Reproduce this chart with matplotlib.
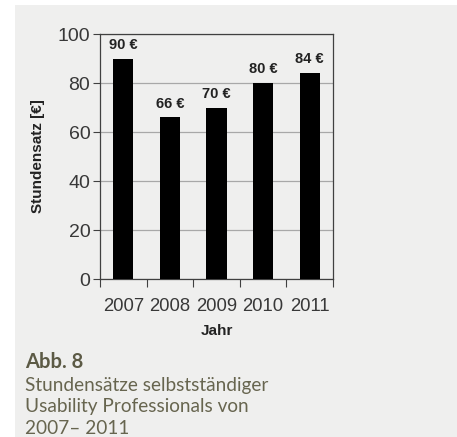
import matplotlib
matplotlib.use("Agg")
import matplotlib.pyplot as plt
import matplotlib.patches as mpatches

years = ["2007", "2008", "2009", "2010", "2011"]
rates = [90, 66, 70, 80, 84]
value_labels = ["90 €", "66 €", "70 €", "80 €", "84 €"]
y_ticks = [0, 20, 40, 60, 80, 100]

PANEL = "#efefee"
TEXT = "#383838"
CAPTION = "#5c5a45"

plt.rcParams["font.family"] = ["Liberation Sans", "DejaVu Sans"]

W, H = 457, 437
fig = plt.figure(figsize=(W / 100, H / 100), dpi=100)
fig.patch.set_facecolor("white")
fig.add_artist(mpatches.Rectangle((15 / W, 0), 1 - 15 / W, 1 - 5 / H,
                                  transform=fig.transFigure,
                                  facecolor=PANEL, edgecolor="none", zorder=-5))

ax = fig.add_axes([100 / W, 1 - 279 / H, 233 / W, 245 / H])
ax.set_facecolor(PANEL)
x = list(range(len(years)))
ax.bar(x, rates, width=0.43, color="black", zorder=3)
for xi, v, lab in zip(x, rates, value_labels):
    ax.annotate(lab, (xi, v), xytext=(0, 7), textcoords="offset points",
                ha="center", va="baseline", fontsize=10.5, fontweight="bold", color="#222222")

ax.set_xlim(-0.5, len(years) - 0.5)
ax.set_ylim(0, 100)
ax.set_yticks(y_ticks)
ax.set_yticklabels([str(t) for t in y_ticks])
ax.set_xticks([i + 0.5 for i in range(-1, len(years))], minor=False)
ax.set_xticklabels([])
ax.set_xticks(x, minor=True)
ax.set_xticklabels(years, minor=True)
ax.tick_params(axis="x", which="major", length=6, color="#404040", direction="out")
ax.tick_params(axis="x", which="minor", length=0, labelsize=13.3, labelcolor=TEXT, pad=14)
ax.tick_params(axis="y", length=5, color="#404040", labelsize=14, labelcolor=TEXT, pad=2)
ax.yaxis.grid(True, color="#a8a8a8", linewidth=0.9, zorder=1)
ax.set_axisbelow(True)
for s in ax.spines.values():
    s.set_color("#404040")
    s.set_linewidth(0.9)

ax.set_ylabel("Stundensatz [€]", fontsize=11, fontweight="bold", color="#222222", labelpad=9)
ax.set_xlabel("Jahr", fontsize=11, fontweight="bold", color="#222222", labelpad=6)

fig.text(25 / W, 1 - 362 / H, "Abb. 8", family=["Lato", "DejaVu Sans"], fontsize=14.5,
         fontweight="bold", color=CAPTION, va="center", ha="left")
caption = ["Stundensätze selbstständiger", "Usability Professionals von", "2007– 2011"]
for i, line in enumerate(caption):
    fig.text(25 / W, 1 - (385 + 21.5 * i) / H, line, family=["Lato", "DejaVu Sans"],
             fontsize=13.7, color="#67654f", va="center", ha="left")

fig.savefig("out.png", dpi=100, facecolor=fig.get_facecolor())
